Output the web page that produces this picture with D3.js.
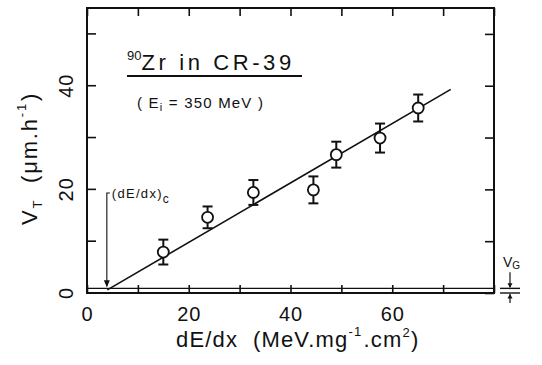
<!DOCTYPE html>
<html>
<head>
<meta charset="utf-8">
<script src="https://cdn.jsdelivr.net/npm/d3@7"></script>
<style>
  body { margin: 0; background: #fff; }
  svg text { font-family: "Liberation Sans", Arial, sans-serif; fill: #111; white-space: pre; }
</style>
</head>
<body>
<svg id="chart" width="542" height="365"></svg>
<script>
// data
var dEdx   = [15, 23.7, 32.7, 44.5, 49, 57.6, 65.1];
var vT     = [7.9, 14.6, 19.4, 19.9, 26.7, 29.9, 35.7];
var vTErr  = [2.4, 2.1, 2.4, 2.6, 2.5, 2.8, 2.6];
var fitX   = [4, 71.5];
var fitY   = [0.6, 39.3];
var vG     = 0.7;
var dEdxC  = 3.9;
var xTicks = [0, 10, 20, 30, 40, 50, 60, 70, 80];
var yTicks = [0, 10, 20, 30, 40, 50];
var xLabels = [0, 20, 40, 60];
var yLabels = [0, 20, 40];

var svg = d3.select('#chart');
var margin = {left: 87, right: 48, top: 8, bottom: 72};
var W = 542, H = 365;

var x = d3.scaleLinear().domain([0, 80]).range([margin.left, W - margin.right]);
var y = d3.scaleLinear().domain([0, 55]).range([H - margin.bottom, margin.top]);

var ink = '#111';

// frame
svg.append('rect')
  .attr('x', x(0)).attr('y', y(55))
  .attr('width', x(80) - x(0)).attr('height', y(0) - y(55))
  .attr('fill', 'none').attr('stroke', ink).attr('stroke-width', 2);

var fmt = function(list) { return function(d) { return list.indexOf(d) >= 0 ? d : ''; }; };

function styleAxis(g) {
  g.select('.domain').remove();
  g.selectAll('line').attr('stroke', ink).attr('stroke-width', 1.6);
  g.selectAll('text').style('font-size', '20px').style('letter-spacing', '1px').attr('fill', ink);
}

svg.append('g').attr('transform', 'translate(0,' + y(0) + ')')
  .call(d3.axisBottom(x).tickValues(xTicks).tickSize(-8).tickPadding(14).tickFormat(fmt(xLabels)))
  .call(styleAxis);
svg.append('g').attr('transform', 'translate(0,' + y(55) + ')')
  .call(d3.axisTop(x).tickValues(xTicks).tickSize(-8).tickFormat(''))
  .call(styleAxis);
var yAx = svg.append('g').attr('transform', 'translate(' + x(0) + ',0)')
  .call(d3.axisLeft(y).tickValues(yTicks).tickSize(-9).tickFormat(fmt(yLabels)))
  .call(styleAxis);
yAx.selectAll('.tick').attr('transform', null);
yAx.selectAll('.tick line').attr('y1', function(d) { return y(d); }).attr('y2', function(d) { return y(d); });
yAx.selectAll('.tick text')
  .attr('x', 0).attr('y', 0).attr('dy', null)
  .attr('text-anchor', 'middle')
  .attr('transform', function(d) { return 'translate(-14,' + y(d) + ') rotate(-90)'; });

svg.append('g').attr('transform', 'translate(' + x(80) + ',0)')
  .call(d3.axisRight(y).tickValues(yTicks).tickSize(-9).tickFormat(''))
  .call(styleAxis);

// V_G line
svg.append('line')
  .attr('x1', x(0)).attr('x2', x(80))
  .attr('y1', y(vG) - 1).attr('y2', y(vG) - 1)
  .attr('stroke', ink).attr('stroke-width', 1.4);

// V_G marker at right
var mx = x(80) + 6, mw = 20, cx = mx + 10;
svg.append('line').attr('x1', mx).attr('x2', mx + mw).attr('y1', y(vG) - 1).attr('y2', y(vG) - 1)
  .attr('stroke', ink).attr('stroke-width', 1.4);
svg.append('line').attr('x1', mx).attr('x2', mx + mw).attr('y1', y(0)).attr('y2', y(0))
  .attr('stroke', ink).attr('stroke-width', 1.4);
svg.append('line').attr('x1', cx).attr('x2', cx).attr('y1', y(vG) - 17).attr('y2', y(vG) - 2)
  .attr('stroke', ink).attr('stroke-width', 1.2);
svg.append('path').attr('d', 'M' + (cx - 2.5) + ',' + (y(vG) - 6) + 'L' + cx + ',' + (y(vG) - 1.5) + 'L' + (cx + 2.5) + ',' + (y(vG) - 6) + 'Z')
  .attr('fill', ink);
svg.append('line').attr('x1', cx).attr('x2', cx).attr('y1', y(0) + 10).attr('y2', y(0) + 1)
  .attr('stroke', ink).attr('stroke-width', 1.2);
svg.append('path').attr('d', 'M' + (cx - 2.5) + ',' + (y(0) + 5.5) + 'L' + cx + ',' + (y(0) + 1) + 'L' + (cx + 2.5) + ',' + (y(0) + 5.5) + 'Z')
  .attr('fill', ink);
var vgT = svg.append('text').attr('x', mx + 3).attr('y', y(vG) - 22).style('font-size', '14px');
vgT.append('tspan').text('V');
vgT.append('tspan').attr('dy', 2).style('font-size', '10px').text('G');

// fit line
svg.append('line')
  .attr('x1', x(fitX[0])).attr('y1', y(fitY[0]))
  .attr('x2', x(fitX[1])).attr('y2', y(fitY[1]))
  .attr('stroke', ink).attr('stroke-width', 1.6);

// error bars
var pts = dEdx.map(function(d, i) { return {x: d, y: vT[i], e: vTErr[i]}; });
var eb = svg.append('g').attr('stroke', ink).attr('stroke-width', 2);
eb.selectAll('.v').data(pts).enter().append('line')
  .attr('x1', function(d) { return x(d.x); }).attr('x2', function(d) { return x(d.x); })
  .attr('y1', function(d) { return y(d.y + d.e); }).attr('y2', function(d) { return y(d.y - d.e); });
eb.selectAll('.t').data(pts).enter().append('line')
  .attr('x1', function(d) { return x(d.x) - 5; }).attr('x2', function(d) { return x(d.x) + 5; })
  .attr('y1', function(d) { return y(d.y + d.e); }).attr('y2', function(d) { return y(d.y + d.e); });
eb.selectAll('.b').data(pts).enter().append('line')
  .attr('x1', function(d) { return x(d.x) - 5; }).attr('x2', function(d) { return x(d.x) + 5; })
  .attr('y1', function(d) { return y(d.y - d.e); }).attr('y2', function(d) { return y(d.y - d.e); });

svg.selectAll('circle.pt').data(pts).enter().append('circle')
  .attr('cx', function(d) { return x(d.x); }).attr('cy', function(d) { return y(d.y); })
  .attr('r', 5.5).attr('fill', '#fff').attr('stroke', ink).attr('stroke-width', 1.8);

// (dE/dx)_c annotation
var ax = x(dEdxC), ayTop = 193;
svg.append('path')
  .attr('d', 'M' + (ax + 3) + ',' + ayTop + 'L' + ax + ',' + ayTop + 'L' + ax + ',' + (y(vG) - 3))
  .attr('fill', 'none').attr('stroke', ink).attr('stroke-width', 1.1);
svg.append('path')
  .attr('d', 'M' + (ax - 3) + ',' + (y(vG) - 9) + 'L' + ax + ',' + (y(vG) - 2) + 'L' + (ax + 3) + ',' + (y(vG) - 9) + 'Z')
  .attr('fill', ink);
var cT = svg.append('text').attr('x', ax + 5).attr('y', ayTop + 5).style('font-size', '13px').style('letter-spacing', '1.3px');
cT.append('tspan').text('(dE/dx)');
cT.append('tspan').attr('dy', 5).style('font-size', '12px').text('c');

// title
var tt = svg.append('text').attr('x', 127).attr('y', 70).style('font-size', '22px').style('letter-spacing', '3.6px');
tt.append('tspan').attr('dy', -10).style('font-size', '13px').style('letter-spacing', '0px').text('90');
tt.append('tspan').attr('dy', 10).text('Zr in CR-39');
svg.append('line').attr('x1', 127).attr('x2', 302).attr('y1', 76).attr('y2', 76)
  .attr('stroke', ink).attr('stroke-width', 1.8);

var st = svg.append('text').attr('x', 137).attr('y', 108).style('font-size', '15px').style('letter-spacing', '1.2px');
st.append('tspan').text('( E');
st.append('tspan').attr('dy', 3).style('font-size', '11px').text('i');
st.append('tspan').attr('dy', -3).text(' = 350 MeV )');

// axis titles
var xt = svg.append('text').attr('x', 176).attr('y', 347).style('font-size', '22px').style('letter-spacing', '1.2px');
xt.append('tspan').text('dE/dx  (MeV.mg');
xt.append('tspan').attr('dy', -11).style('font-size', '13px').text('-1');
xt.append('tspan').attr('dx', 1).attr('dy', 11).text('.cm');
xt.append('tspan').attr('dy', -10).style('font-size', '13px').text('2');
xt.append('tspan').attr('dy', 10).text(')');

var yt = svg.append('text').attr('transform', 'translate(37,225) rotate(-90)').style('font-size', '22px').style('letter-spacing', '1.8px');
yt.append('tspan').text('V');
yt.append('tspan').attr('dy', 5).style('font-size', '13px').text('T');
yt.append('tspan').attr('dy', -5).text('  (μm.h');
yt.append('tspan').attr('dy', -11).style('font-size', '13px').text('-1');
yt.append('tspan').attr('dx', 1).attr('dy', 11).text(')');
</script>
</body>
</html>
